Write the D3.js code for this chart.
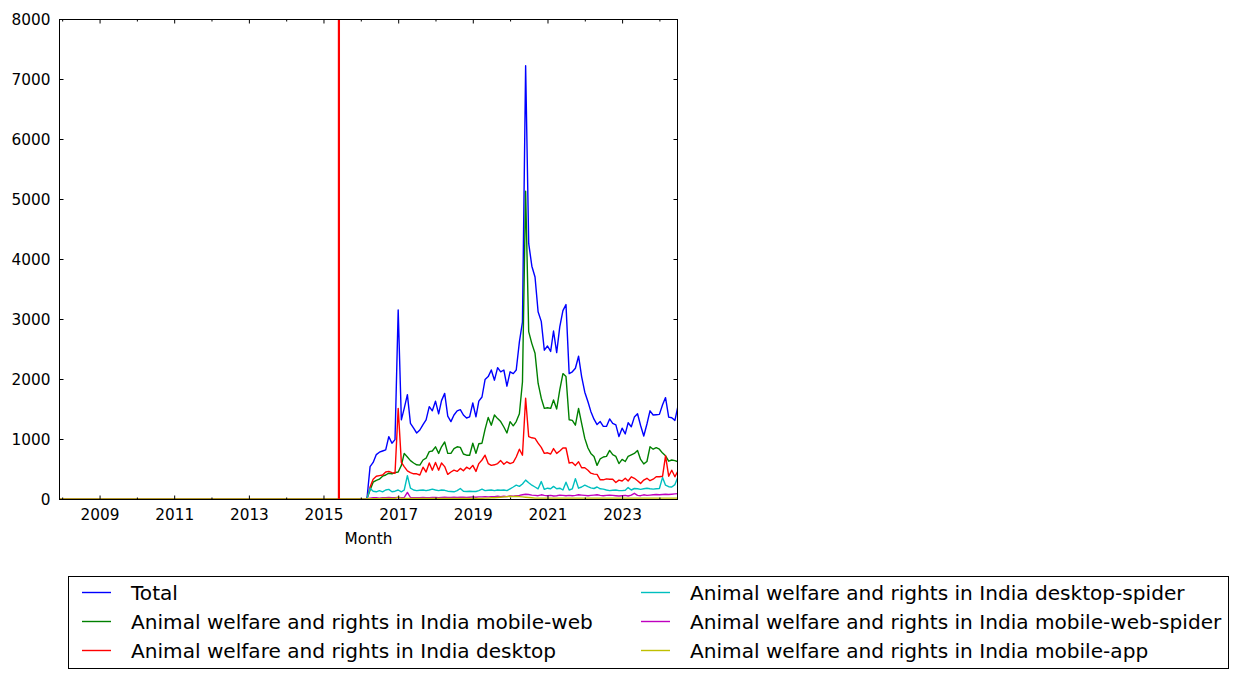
<!DOCTYPE html>
<html>
<head>
<meta charset="utf-8">
<script src="https://cdn.jsdelivr.net/npm/d3@7"></script>
<style>
  html, body { margin: 0; padding: 0; background: #ffffff; }
  svg { display: block; font-family: "DejaVu Sans", sans-serif; }
</style>
</head>
<body>
<svg id="chart" width="1239" height="679"></svg>
<script>
// ---------------- data ----------------
// All series are 0 from the start of the axis (2007-12) until 2016-03.
const historyStart = "2007-12";
const firstMonth = "2016-03";
const lastMonth = "2024-07";
const markerMonth = "2015-06";   // red vertical line

const yTicks = [0, 1000, 2000, 3000, 4000, 5000, 6000, 7000, 8000];
const xMajorYears = [2009, 2011, 2013, 2015, 2017, 2019, 2021, 2023];
const xMinorYears = [2008, 2010, 2012, 2014, 2016, 2018, 2020, 2022, 2024];

const seriesNames = [
  "Total",
  "Animal welfare and rights in India mobile-web",
  "Animal welfare and rights in India desktop",
  "Animal welfare and rights in India desktop-spider",
  "Animal welfare and rights in India mobile-web-spider",
  "Animal welfare and rights in India mobile-app"
];

// monthly values from 2016-03 to 2024-07
const totalValues = [
  0, 540, 610, 740, 780, 800, 820, 1040, 930, 990,
  3150, 1320, 1510, 1740, 1260, 1180, 1100, 1150, 1240, 1320, 1540, 1470,
  1630, 1420, 1640, 1760, 1380, 1290, 1400, 1470, 1490, 1400, 1350, 1370,
  1600, 1370, 1630, 1700, 1990, 2040, 2150, 1980, 2190, 2120, 2150, 1880,
  2120, 2090, 2150, 2620, 2950, 7220, 4260, 3880, 3700, 3120, 2960, 2480,
  2550, 2460, 2800, 2440, 2870, 3140, 3240, 2090, 2120, 2180, 2380, 2040,
  1780, 1620, 1460, 1330, 1240, 1290, 1210, 1210, 1335, 1260, 1235, 1040,
  1180, 1085, 1270, 1205, 1365, 1420, 1225, 1050, 1250, 1470, 1400, 1405,
  1410, 1570, 1690, 1365, 1355, 1310, 1550
];
const mobileWebValues = [
  0, 150, 280, 310, 330, 380, 400, 430, 420, 440,
  450, 560, 760, 700, 640, 600, 570, 565, 650, 680, 790, 800,
  870, 760, 870, 950, 760, 760, 840, 870, 860, 750, 730, 730,
  930, 760, 920, 930, 1160, 1360, 1230, 1400, 1340, 1290, 1200, 1100,
  1290, 1220, 1290, 1420, 1950, 5130, 2790, 2590, 2430, 1930, 1680, 1510,
  1520, 1510, 1650, 1500, 1820, 2090, 2040, 1320, 1310, 1230, 1510, 1260,
  1010, 850, 760, 710, 560, 670, 700, 710, 810, 740, 710, 590,
  660, 625, 710, 735, 760, 810, 660, 585, 625, 870, 830, 855,
  830, 765, 720, 630, 650, 640, 620
];
const desktopValues = [
  0, 200, 330, 380, 390, 400, 450, 460, 440, 430,
  1510, 610, 540, 470, 440, 420, 420, 400, 530, 450, 600, 480,
  610, 480, 600, 540, 410, 450, 480, 460, 510, 470, 530, 500,
  560, 460, 590, 650, 730, 590, 560, 570, 590, 640, 580, 620,
  590, 610, 700, 830, 730, 1680, 1040, 1020, 1010, 930, 860, 760,
  770, 750, 840, 760, 800, 850, 850, 600, 610, 560, 620, 520,
  520, 480, 430, 415, 410, 320, 320, 335, 330, 330, 275, 315,
  300, 345, 300, 370, 345, 305, 260, 315, 345, 305, 330, 370,
  370, 380, 720, 380, 480, 370, 470
];
const desktopSpiderValues = [
  0, 180, 130, 120, 140, 120, 150, 160, 120, 130,
  150, 120, 150, 390, 180, 150, 140, 145, 150, 140, 150, 165,
  150, 140, 150, 145, 130, 125, 120, 140, 175, 130, 125, 130,
  125, 125, 140, 165, 140, 145, 150, 140, 150, 145, 150, 140,
  170, 200, 230, 210, 250, 315, 270, 230, 200, 170, 290, 160,
  180, 170, 210, 170, 180, 150, 280, 150, 170, 340, 180, 200,
  230, 205, 185, 175, 200, 170, 165, 150, 140, 145, 150, 140,
  140, 145, 190, 150, 175, 170, 160, 170, 180, 170, 165, 170,
  175, 360, 230, 205, 200, 240, 370
];
const mobileWebSpiderValues = [
  0, 15, 20, 20, 15, 20, 20, 25, 20, 20,
  25, 20, 25, 110, 25, 20, 20, 20, 25, 20, 20, 25,
  25, 20, 25, 30, 25, 25, 30, 25, 30, 30, 25, 30,
  35, 30, 35, 35, 40, 35, 40, 40, 45, 40, 45, 40,
  50, 45, 55, 60, 70, 80, 75, 65, 60, 55, 70, 60,
  55, 60, 50, 55, 65, 60, 55, 60, 55, 60, 70, 65,
  60, 55, 60, 65, 70, 60, 55, 60, 65, 60, 55, 50,
  55, 60, 50, 65, 95, 60, 55, 70, 60, 65, 70, 75,
  70, 75, 80, 75, 80, 85, 90
];
const mobileAppValues = [
  0, 5, 5, 5, 5, 10, 10, 10, 10, 10,
  30, 10, 10, 10, 10, 10, 10, 10, 10, 10, 10, 10,
  10, 10, 10, 10, 10, 10, 10, 10, 10, 10, 10, 10,
  10, 10, 10, 10, 15, 15, 20, 20, 25, 30, 35, 40,
  45, 40, 45, 40, 35, 30, 25, 20, 15, 15, 15, 15,
  15, 15, 15, 15, 15, 15, 15, 15, 15, 15, 15, 15,
  15, 15, 15, 15, 15, 15, 15, 15, 15, 15, 15, 15,
  15, 15, 15, 15, 15, 15, 15, 15, 15, 15, 15, 15,
  15, 15, 15, 15, 15, 15, 15
];

const seriesValues = [totalValues, mobileWebValues, desktopValues,
  desktopSpiderValues, mobileWebSpiderValues, mobileAppValues];
const seriesColors = ["#0000ff", "#008000", "#ff0000", "#00bfbf", "#bf00bf", "#bfbf00"];

// ---------------- drawing ----------------
const parseMonth = d3.timeParse("%Y-%m");
const months = d3.timeMonth.range(parseMonth(firstMonth), d3.timeMonth.offset(parseMonth(lastMonth), 1));

const L = 59, R = 678, T = 19, B = 499;
const svg = d3.select("#chart");
svg.append("rect").attr("width", 1239).attr("height", 679).attr("fill", "#ffffff");

const x = d3.scaleTime().domain([parseMonth(historyStart), parseMonth(lastMonth)]).range([L, R]);
const y = d3.scaleLinear().domain([0, 8000]).range([B, T]);

const plot = svg.append("g");
plot.append("defs").append("clipPath").attr("id", "clip")
  .append("rect").attr("x", L).attr("y", T).attr("width", R - L).attr("height", B - T + 1);

const line = d3.line().x(d => x(d.date)).y(d => y(d.value));
const lineWidth = 1.4;

const lines = plot.append("g").attr("clip-path", "url(#clip)");
seriesValues.forEach((vals, i) => {
  const pts = [{date: parseMonth(historyStart), value: 0}]
    .concat(months.map((m, k) => ({date: m, value: vals[k]})));
  lines.append("path")
    .datum(pts)
    .attr("fill", "none")
    .attr("stroke", seriesColors[i])
    .attr("stroke-width", lineWidth)
    .attr("stroke-linejoin", "round")
    .attr("d", line);
});

// red vertical marker
lines.append("line")
  .attr("x1", x(parseMonth(markerMonth))).attr("x2", x(parseMonth(markerMonth)))
  .attr("y1", T).attr("y2", B)
  .attr("stroke", "#ff0000").attr("stroke-width", 2.2);

// frame
svg.append("rect")
  .attr("x", L + 0.5).attr("y", T + 0.5)
  .attr("width", R - L - 1).attr("height", B - T)
  .attr("fill", "none").attr("stroke", "#000").attr("stroke-width", 1);

// axes (ticks inward) using d3 axis generators
const tickFont = 15.3;
const yearDate = yr => new Date(yr, 0, 1);

// bottom major
const xAxisMajor = d3.axisBottom(x).tickValues(xMajorYears.map(yearDate))
  .tickFormat(d3.timeFormat("%Y")).tickSizeInner(-4).tickSizeOuter(0).tickPadding(10);
const gxb = svg.append("g").attr("transform", `translate(0,${B + 0.5})`).call(xAxisMajor);
gxb.select(".domain").remove();
gxb.selectAll("text").attr("font-size", tickFont).attr("font-family", "DejaVu Sans").attr("fill", "#000")
  .attr("dy", "0.71em");
// bottom minor
const gxbm = svg.append("g").attr("transform", `translate(0,${B + 0.5})`)
  .call(d3.axisBottom(x).tickValues(xMinorYears.map(yearDate)).tickFormat("").tickSizeInner(-2).tickSizeOuter(0));
gxbm.select(".domain").remove();
// top major / minor
const gxt = svg.append("g").attr("transform", `translate(0,${T + 0.5})`)
  .call(d3.axisTop(x).tickValues(xMajorYears.map(yearDate)).tickFormat("").tickSizeInner(-4).tickSizeOuter(0));
gxt.select(".domain").remove();
const gxtm = svg.append("g").attr("transform", `translate(0,${T + 0.5})`)
  .call(d3.axisTop(x).tickValues(xMinorYears.map(yearDate)).tickFormat("").tickSizeInner(-2).tickSizeOuter(0));
gxtm.select(".domain").remove();

// left
const gyl = svg.append("g").attr("transform", `translate(${L + 0.5},0)`)
  .call(d3.axisLeft(y).tickValues(yTicks).tickFormat(d3.format("d")).tickSizeInner(-4).tickSizeOuter(0).tickPadding(9));
gyl.select(".domain").remove();
gyl.selectAll("text").attr("font-size", tickFont).attr("font-family", "DejaVu Sans").attr("fill", "#000")
  .attr("dy", "0.36em");
// right
const gyr = svg.append("g").attr("transform", `translate(${R - 0.5},0)`)
  .call(d3.axisRight(y).tickValues(yTicks).tickFormat("").tickSizeInner(-4).tickSizeOuter(0));
gyr.select(".domain").remove();

svg.selectAll(".tick line").attr("stroke", "#000").attr("stroke-width", 1);

// x label
svg.append("text").attr("x", (L + R) / 2).attr("y", 544)
  .attr("text-anchor", "middle").attr("font-size", tickFont).attr("fill", "#000")
  .text("Month");

// legend
const legend = svg.append("g");
legend.append("rect").attr("x", 68.5).attr("y", 576.5).attr("width", 1160).attr("height", 92)
  .attr("fill", "#fff").attr("stroke", "#000").attr("stroke-width", 1);
const rowY = [592.5, 621.5, 650.5];
const colHandleX = [82, 641];
const colTextX = [131, 690];
seriesNames.forEach((name, i) => {
  const col = Math.floor(i / 3), row = i % 3;
  legend.append("line")
    .attr("x1", colHandleX[col]).attr("x2", colHandleX[col] + 29)
    .attr("y1", rowY[row]).attr("y2", rowY[row])
    .attr("stroke", seriesColors[i]).attr("stroke-width", lineWidth);
  legend.append("text")
    .attr("x", colTextX[col]).attr("y", rowY[row] + 7)
    .attr("font-size", 20.1).attr("fill", "#000")
    .text(name);
});
</script>
</body>
</html>
